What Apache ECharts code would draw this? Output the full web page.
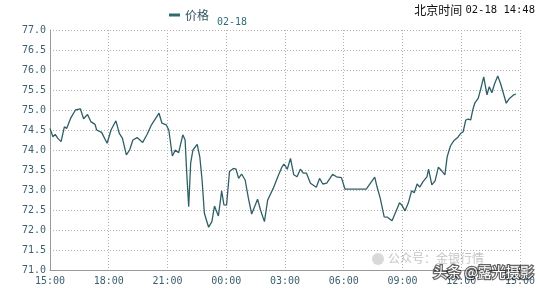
<!DOCTYPE html>
<html>
<head>
<meta charset="utf-8">
<script src="https://cdn.jsdelivr.net/npm/echarts@6/dist/echarts.min.js"></script>
<style>html,body{margin:0;padding:0;background:#fff}#c{width:538px;height:288px}</style>
</head>
<body>
<div id="c"></div>
<script>
var seriesName = '价格';
var xTickLabels = ['15:00','18:00','21:00','00:00','03:00','06:00','09:00','12:00','15:00'];
var times = ['15:00','15:09','15:16','15:24','15:34','15:44','15:51','16:03','16:18','16:33','16:43','16:55','17:05','17:18','17:23','17:38','17:55','18:07','18:22','18:32','18:42','18:54','19:04','19:14','19:27','19:44','19:57','20:11','20:34','20:43','20:56','21:04','21:15','21:24','21:34','21:47','21:54','21:59','22:05','22:11','22:18','22:31','22:39','22:46','22:53','23:06','23:16','23:24','23:36','23:46','23:53','00:01','00:10','00:22','00:30','00:38','00:47','00:58','01:08','01:18','01:36','01:45','01:57','02:07','02:24','02:39','02:51','02:57','03:07','03:17','03:27','03:37','03:47','03:56','04:06','04:18','04:36','04:46','04:56','05:08','05:26','05:38','05:53','05:58','06:04','07:09','07:35','07:42','07:52','08:04','08:14','08:28','08:41','08:51','08:58','09:08','09:18','09:28','09:36','09:45','09:53','10:03','10:15','10:20','10:30','10:40','10:50','11:00','11:10','11:17','11:27','11:37','11:50','11:59','12:06','12:14','12:22','12:29','12:36','12:42','12:52','12:59','13:09','13:19','13:26','13:34','13:42','13:52','14:01','14:18','14:28','14:41','14:48'];
var prices = [74.54,74.33,74.39,74.29,74.21,74.58,74.54,74.79,75.00,75.03,74.78,74.89,74.71,74.64,74.50,74.44,74.17,74.50,74.73,74.42,74.29,73.88,74.00,74.25,74.31,74.19,74.38,74.63,74.92,74.67,74.63,74.50,73.85,74.00,73.93,74.38,74.25,73.42,72.58,73.67,74.00,74.14,73.83,73.25,72.42,72.07,72.21,72.60,72.35,72.98,72.63,72.62,73.46,73.54,73.52,73.29,73.40,73.25,72.79,72.40,72.77,72.50,72.21,72.75,73.04,73.35,73.58,73.65,73.52,73.79,73.38,73.33,73.52,73.42,73.42,73.17,73.07,73.29,73.15,73.17,73.39,73.33,73.31,73.27,73.02,73.02,73.32,73.08,72.79,72.33,72.32,72.23,72.48,72.68,72.62,72.48,72.68,72.98,72.93,73.15,73.07,73.21,73.33,73.52,73.13,73.23,73.57,73.48,73.38,73.83,74.10,74.23,74.32,74.42,74.46,74.75,74.77,74.75,75.02,75.18,75.29,75.50,75.83,75.38,75.58,75.43,75.65,75.85,75.65,75.17,75.29,75.38,75.40];
var dateLabel = '02-18';
var headerText = '北京时间';
var headerStamp = '02-18 14:48';
var watermark1 = '公众号：金银行情';
var watermark2 = '头条 @露光摄影';

function toMinutes(s) {
  var p = s.split(':');
  var m = (+p[0]) * 60 + (+p[1]) - 15 * 60;
  if (m < 0) m += 1440;
  return m;
}
var data = times.map(function (t, i) { return [toMinutes(t), prices[i]]; });

var chart = echarts.init(document.getElementById('c'), null, {renderer: 'canvas'});
var mono = '"DejaVu Sans Mono", "Liberation Mono", monospace';
var labelColor = '#3d5f6e';
chart.setOption({
  animation: false,
  backgroundColor: '#fff',
  legend: {
    data: [seriesName],
    left: 164, top: 4,
    icon: 'rect', itemWidth: 11, itemHeight: 3, itemGap: 4,
    textStyle: {fontSize: 12, color: '#2f5560', fontFamily: '"Noto Sans CJK SC", sans-serif'}
  },
  grid: {left: 50, right: 4, top: 30, bottom: 18, containLabel: false},
  xAxis: {
    type: 'value', min: 0, max: 1440, interval: 180,
    axisLine: {show: true, lineStyle: {color: '#999', width: 1}},
    axisTick: {show: false},
    axisLabel: {
      margin: 6, fontSize: 10, fontFamily: mono, color: labelColor,
      formatter: function (v) { return xTickLabels[Math.round(v / 180)]; }
    },
    splitLine: {show: true, lineStyle: {color: '#b0b0b0', type: [1, 2], width: 1}}
  },
  yAxis: {
    type: 'value', min: 71, max: 77, interval: 0.5,
    axisLine: {show: true, lineStyle: {color: '#999', width: 1}},
    axisTick: {show: false},
    axisLabel: {
      margin: 4, fontSize: 10, fontFamily: mono, color: labelColor,
      formatter: function (v) { return v.toFixed(1); }
    },
    splitLine: {show: true, lineStyle: {color: '#b0b0b0', type: [1, 2], width: 1}}
  },
  series: [{
    name: seriesName, type: 'line', data: data,
    showSymbol: false, symbol: 'none',
    lineStyle: {color: '#2f5f66', width: 1.3},
    itemStyle: {color: '#2f6b6b'}
  }],
  graphic: [
    {type: 'text', left: 217, top: 17, style: {text: dateLabel, font: '10px ' + mono, fill: '#2f6b7a'}},
    {type: 'text', right: 3, top: 4, style: {
      rich: {a: {font: '12px "Noto Sans CJK SC", sans-serif', fill: '#111'}, b: {font: '10.5px ' + mono, fill: '#111'}},
      text: '{a|' + headerText + '} {b|' + headerStamp + '}'
    }},
    {type: 'circle', z: 10, shape: {cx: 378, cy: 259, r: 6}, style: {fill: 'rgba(170,170,170,0.45)'}},
    {type: 'text', left: 388, top: 252, z: 10, style: {text: watermark1, font: '12px "Noto Sans CJK SC", sans-serif', fill: 'rgba(150,150,150,0.55)'}},
    {type: 'text', left: 432, top: 263, z: 11, style: {text: watermark2, font: '14px "Noto Sans CJK SC", sans-serif', fill: '#fff', stroke: 'rgba(0,0,0,0.6)', lineWidth: 2.5}}
  ]
});
</script>
</body>
</html>
